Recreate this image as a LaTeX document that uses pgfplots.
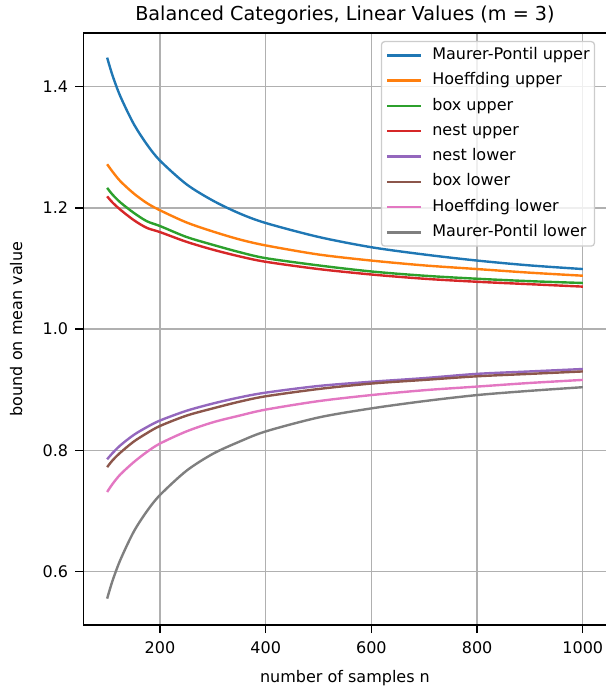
\documentclass[border=0pt]{standalone}
\usepackage{fontspec}
\setmainfont{DejaVu Sans}
\usepackage{pgfplots}
\usepackage{pgfplotstable}
\pgfplotsset{compat=1.18}
\definecolor{c0}{HTML}{1F77B4}
\definecolor{c1}{HTML}{FF7F0E}
\definecolor{c2}{HTML}{2CA02C}
\definecolor{c3}{HTML}{D62728}
\definecolor{c4}{HTML}{9467BD}
\definecolor{c5}{HTML}{8C564B}
\definecolor{c6}{HTML}{E377C2}
\definecolor{c7}{HTML}{7F7F7F}
\definecolor{gridgray}{HTML}{B0B0B0}
\definecolor{legframe}{HTML}{CCCCCC}
\pgfplotstableread{
n     mpu    hu     bu     nu     nl     bl     hl     mpl
100   1.448  1.272  1.233  1.219  0.785  0.772  0.731  0.555
110   1.419  1.260  1.222  1.209  0.795  0.783  0.744  0.584
125   1.384  1.244  1.209  1.197  0.808  0.796  0.760  0.619
150   1.339  1.224  1.192  1.180  0.825  0.814  0.780  0.665
175   1.305  1.208  1.178  1.167  0.838  0.828  0.797  0.699
200   1.278  1.196  1.170  1.160  0.849  0.840  0.811  0.726
250   1.239  1.176  1.152  1.144  0.865  0.857  0.831  0.766
300   1.212  1.161  1.139  1.131  0.877  0.869  0.846  0.794
350   1.191  1.148  1.127  1.120  0.887  0.880  0.857  0.814
400   1.175  1.138  1.117  1.111  0.895  0.889  0.867  0.831
500   1.152  1.123  1.105  1.099  0.906  0.901  0.881  0.854
600   1.135  1.113  1.095  1.090  0.913  0.910  0.891  0.869
700   1.123  1.105  1.088  1.083  0.919  0.916  0.899  0.881
800   1.113  1.099  1.083  1.078  0.926  0.922  0.905  0.891
900   1.105  1.093  1.079  1.074  0.930  0.926  0.911  0.898
1000  1.099  1.088  1.076  1.070  0.934  0.930  0.916  0.904
}\datatable
\begin{document}
\begin{tikzpicture}
\begin{axis}[
  scale only axis,
  width=327pt, height=370pt,
  xmin=55, xmax=1045,
  ymin=0.5114, ymax=1.4887,
  axis x line*=bottom,
  axis y line*=left,
  axis line style={-, black, line width=0.8pt},
  xtick={200,400,600,800,1000},
  ytick={0.6,0.8,1.0,1.2,1.4},
  /pgf/number format/assume math mode=true,
  /pgf/number format/1000 sep={},
  tick label style={font=\fontsize{10}{12}\selectfont, text=black},
  xticklabel style={yshift=-2pt, inner xsep=0pt},
  yticklabel style={xshift=-1pt, /pgf/number format/.cd, fixed, fixed zerofill, precision=1},
  tick align=outside,
  tick pos=left,
  major tick length=5pt,
  every tick/.style={black, line width=0.8pt},
  grid=major,
  major grid style={gridgray, line width=0.8pt},
  title={Balanced Categories, Linear Values (m = 3)},
  title style={font=\fontsize{12}{14}\selectfont, at={(axis description cs:0.5,1)}, anchor=base, yshift=2pt},
  xlabel={number of samples n},
  xlabel style={font=\fontsize{10}{12}\selectfont, at={(axis description cs:0.5,0)}, anchor=center, yshift=-33pt},
  ylabel={bound on mean value},
  ylabel style={font=\fontsize{10}{12}\selectfont, at={(axis description cs:0,0.5)}, anchor=center, yshift=42pt},
  extra description/.code={\draw[black, line width=0.8pt] (axis description cs:0,1) -- (axis description cs:1,1);},
  legend cell align=left,
  legend image code/.code={\draw[#1,line width=1.5pt] (0pt,0pt) -- (21pt,0pt);},
  legend style={
    at={(axis description cs:0.978,0.9865)}, anchor=north east,
    font=\fontsize{10}{12}\selectfont,
    draw=legframe, line width=0.8pt, rounded corners=2pt,
    fill=white, fill opacity=0.8, text opacity=1, draw opacity=1,
    inner xsep=3pt, inner ysep=3.6pt,
    row sep=5.8pt,
    nodes={inner sep=0pt, text height=7.6pt, text depth=2.4pt},
    /tikz/every odd column/.append style={column sep=6.3pt},
  },
  every axis plot/.append style={line width=1.5pt, no markers, smooth},
]
\addplot[c0] table[x=n,y=mpu]{\datatable};
\addlegendentry{Maurer-Pontil upper}
\addplot[c1] table[x=n,y=hu]{\datatable};
\addlegendentry{Hoeffding upper}
\addplot[c2] table[x=n,y=bu]{\datatable};
\addlegendentry{box upper}
\addplot[c3] table[x=n,y=nu]{\datatable};
\addlegendentry{nest upper}
\addplot[c4] table[x=n,y=nl]{\datatable};
\addlegendentry{nest lower}
\addplot[c5] table[x=n,y=bl]{\datatable};
\addlegendentry{box lower}
\addplot[c6] table[x=n,y=hl]{\datatable};
\addlegendentry{Hoeffding lower}
\addplot[c7] table[x=n,y=mpl]{\datatable};
\addlegendentry{Maurer-Pontil lower}
\end{axis}
\pgfresetboundingbox
\path[use as bounding box] ([shift={(-52.1pt,-43.1pt)}]current axis.south west) rectangle ([shift={(-1pt,20.6pt)}]current axis.north east);
\end{tikzpicture}
\end{document}
